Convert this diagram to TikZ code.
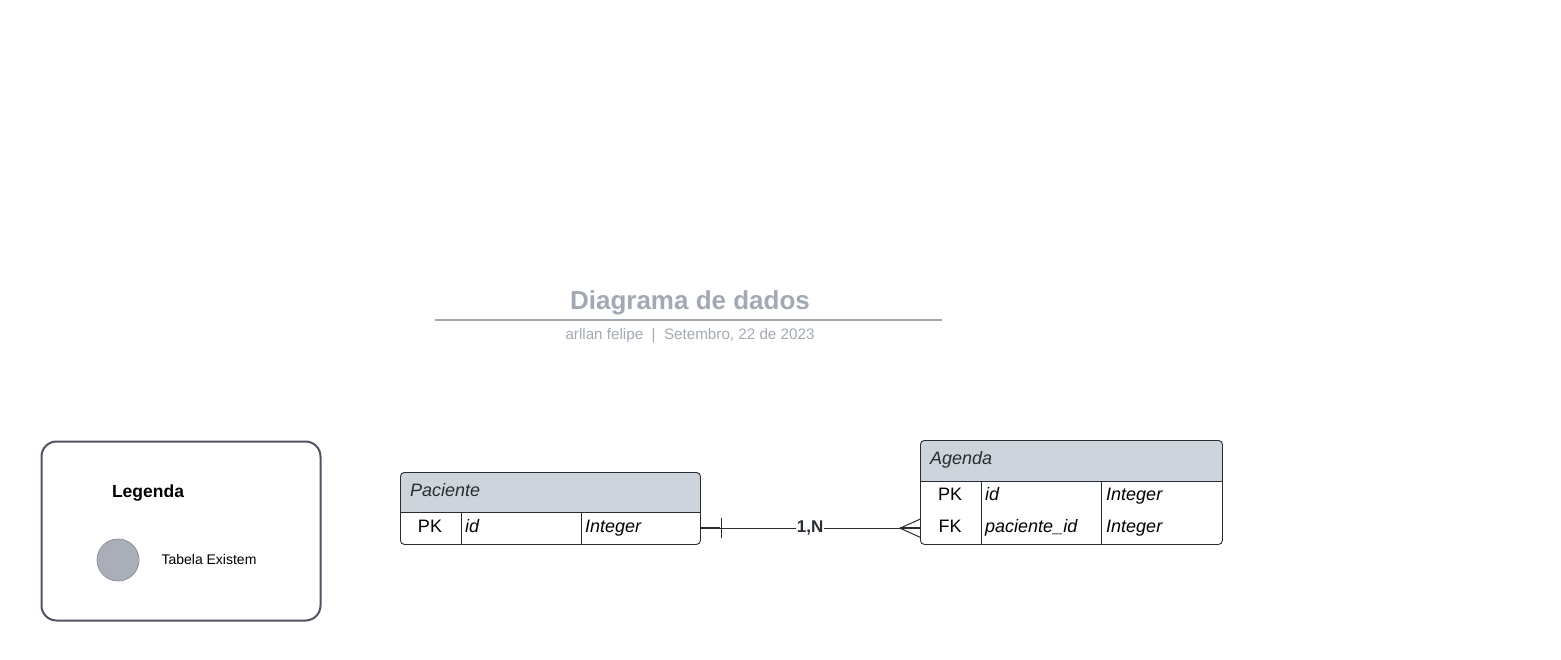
\documentclass[tikz,border=0pt]{standalone}
\usepackage{fontspec}
\setmainfont{Liberation Sans}
\usepackage{xcolor}
\usepackage{tikz}
\usetikzlibrary{positioning}

\definecolor{titlegray}{HTML}{A3A9B3}
\definecolor{hdrfill}{HTML}{CED4DC}
\definecolor{legedge}{HTML}{4F5362}
\definecolor{dotfill}{HTML}{A9AEB8}
\definecolor{dotline}{HTML}{8E939C}
\definecolor{inkclr}{HTML}{282C33}

\begin{document}
\begin{tikzpicture}[x=1pt,y=-1pt]
	\tikzset{tbl/.style={draw=inkclr,line width=0.9pt,rounded corners=4pt,
			anchor=north west,inner sep=0pt},
		rowbox/.style={anchor=north west,inner sep=0pt,minimum height=32pt},
		cell/.style={font=\fontsize{18}{20}\selectfont,inner sep=0pt,text=black},
		hdtext/.style={cell,anchor=base west,text=inkclr}}

\useasboundingbox (0,0) rectangle (1561,660);

% title
\node[anchor=base,text=titlegray,font=\bfseries\fontsize{26}{30}\selectfont] (title) at (690,310) {Diagrama de dados};
\draw[titlegray,line width=2pt] (435,320) -- (942,320);
\node[anchor=base,text=titlegray,font=\fontsize{15.2}{17}\selectfont] (sub) at (690,340) {arllan felipe \ \textbar\ \ Setembro, 22 de 2023};

% legenda
\node[tbl,draw=legedge,line width=2pt,rounded corners=15pt,minimum width=279pt,minimum height=179pt] (leg) at (40.5,440.5) {};
\node[anchor=base,font=\bfseries\fontsize{17.5}{20}\selectfont] (legtitle) at (148,497) {Legenda};
\node[circle,fill=dotfill,draw=dotline,line width=0.8pt,minimum size=42pt,inner sep=0pt] (dot) at (118,560) {};
\node[anchor=base west,font=\fontsize{14}{16}\selectfont] (dottext) at (158,564) {Tabela Existem};

% Paciente
\begin{scope}
\clip[rounded corners=4pt] (400,472) rectangle (700,544);
\fill[hdrfill] (400,472) rectangle (700,512);
\end{scope}
\node[tbl,minimum width=300pt,minimum height=72pt] (pac) at (400,472) {};
\draw[inkclr,line width=0.9pt] (400,512) -- (700,512);
\draw[inkclr,line width=0.9pt] (461,512) -- (461,544);
\draw[inkclr,line width=0.9pt] (581,512) -- (581,544);
\node[rowbox,minimum width=300pt] (pacid) at (400,512) {};
\node[hdtext] (pacname) at (410,496) {\itshape Paciente};
\node[cell,anchor=base] (pacpk) at (430,532) {PK};
\node[cell,anchor=base west] (pacidn) at (465,532) {\itshape id};
\node[cell,anchor=base west] (pacidt) at (585,532) {\itshape Integer};

% Agenda
\begin{scope}
\clip[rounded corners=4pt] (920,440) rectangle (1222,544);
\fill[hdrfill] (920,440) rectangle (1222,481);
\end{scope}
\node[tbl,minimum width=302pt,minimum height=104pt] (ag) at (920,440) {};
\draw[inkclr,line width=0.9pt] (920,481) -- (1222,481);
\draw[inkclr,line width=0.9pt] (981,481) -- (981,544);
\draw[inkclr,line width=0.9pt] (1101,481) -- (1101,544);
\node[rowbox,minimum width=302pt] (agfk) at (920,512) {};
\node[hdtext] (agname) at (930,464) {\itshape Agenda};
\node[cell,anchor=base] (agpk) at (950,500) {PK};
\node[cell,anchor=base west] (agidn) at (985,500) {\itshape id};
\node[cell,anchor=base west] (agidt) at (1106,500) {\itshape Integer};
\node[cell,anchor=base] (agfkk) at (950,532) {FK};
\node[cell,anchor=base west] (agfkn) at (985,532) {\itshape paciente\_id};
\node[cell,anchor=base west] (agfkt) at (1106,532) {\itshape Integer};

% relacao
\draw[inkclr,line width=1pt] (pacid.east) -- (agfk.west)
	node[midway,fill=white,inner sep=1pt,font=\bfseries\fontsize{17}{20}\selectfont] (card) {1,N};
\draw[inkclr,line width=1.6pt] (pacid.east) -- ++(20,0);
\draw[inkclr,line width=1.3pt] ([xshift=21pt]pacid.east) ++(0,-10) -- ++(0,20);
\draw[inkclr,line width=1.6pt] ([xshift=-20pt]agfk.west) -- (agfk.west);
\draw[inkclr,line width=1pt] ([yshift=-9pt]agfk.west) -- ([xshift=-20pt]agfk.west) -- ([yshift=9pt]agfk.west);
\end{tikzpicture}
\end{document}
